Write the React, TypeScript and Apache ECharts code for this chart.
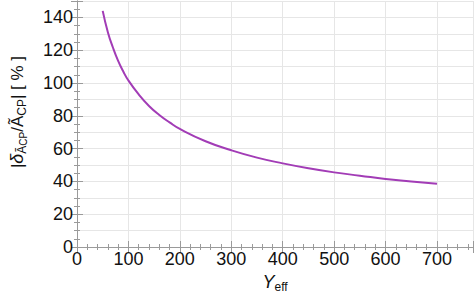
import React, { useEffect, useRef } from 'react';
import * as echarts from 'echarts';

const xValues = [50, 60, 70, 80, 90, 100, 120, 140, 160, 180, 200, 250, 300, 350, 400, 450, 500, 550, 600, 650, 700];
const yValues = [144, 131, 121.5, 113.5, 107, 101.5, 93, 86, 80.5, 76, 72, 64.5, 59, 54.5, 51, 48, 45.5, 43.5, 41.5, 40, 38.5];
const xTickLabels = [0, 100, 200, 300, 400, 500, 600, 700];
const yTickLabels = [0, 20, 40, 60, 80, 100, 120, 140];

const FONT = '"Liberation Sans", Arial, sans-serif';
const FRAME = '#9a9a9a';
const GRID = '#e6e6e6';
const LINE = '#a23cb6';

export default function App() {
  const ref = useRef<HTMLDivElement>(null);
  useEffect(() => {
    if (!ref.current) return;
    const chart = echarts.init(ref.current, undefined, { renderer: 'svg' });
    const xBase = {
      type: 'value' as const,
      min: 0,
      max: 770,
      interval: 100,
      axisLine: { show: true, lineStyle: { color: FRAME, width: 1 } },
      axisTick: { show: true, inside: true, length: 6, lineStyle: { color: FRAME } },
      minorTick: { show: true, splitNumber: 5, length: 3, lineStyle: { color: FRAME } },
    };
    const yBase = {
      type: 'value' as const,
      min: 0,
      max: 150,
      interval: 20,
      axisLine: { show: true, lineStyle: { color: FRAME, width: 1 } },
      axisTick: { show: true, inside: true, length: 6, lineStyle: { color: FRAME } },
      minorTick: { show: true, splitNumber: 4, length: 3, lineStyle: { color: FRAME } },
    };
    chart.setOption({
      animation: false,
      backgroundColor: '#ffffff',
      textStyle: { fontFamily: FONT },
      grid: { left: 74, right: 2, top: 1, bottom: 51, containLabel: false },
      xAxis: [
        {
          ...xBase,
          position: 'bottom',
          splitLine: { show: true, lineStyle: { color: GRID, width: 1 } },
          axisLabel: {
            show: true,
            fontSize: 18,
            color: '#111',
            margin: 3,
            fontFamily: FONT,
            formatter: (v: number) => (xTickLabels.includes(v) ? String(v) : ''),
          },
          name: '{i|Y}{s|eff}',
          nameLocation: 'middle',
          nameGap: 24,
          nameTextStyle: {
            rich: {
              i: { fontSize: 18, fontStyle: 'italic', fontFamily: FONT, color: '#111', lineHeight: 22, verticalAlign: 'middle' },
              s: { fontSize: 12, fontFamily: FONT, color: '#111', lineHeight: 12, verticalAlign: 'bottom' },
            },
          },
        },
        {
          ...xBase,
          position: 'top',
          splitLine: { show: false },
          axisLabel: { show: false },
        },
      ],
      yAxis: [
        {
          ...yBase,
          position: 'left',
          splitLine: { show: false },
          axisLabel: {
            show: true,
            fontSize: 18,
            color: '#111',
            margin: 4,
            fontFamily: FONT,
            formatter: (v: number) => (yTickLabels.includes(v) ? String(v) : ''),
          },
          name: '{n||}{d|δ}{s|Ã}{t|CP}{n|/Ã}{s|CP}{n|| [ % ]}',
          nameLocation: 'middle',
          nameGap: 49,
          nameRotate: 90,
          nameTextStyle: {
            padding: [0, 0, 0, 24],
            rich: {
              n: { fontSize: 17, fontFamily: FONT, color: '#111', lineHeight: 22, verticalAlign: 'middle' },
              d: { fontSize: 18, fontStyle: 'italic', fontFamily: FONT, color: '#111', lineHeight: 22, verticalAlign: 'middle' },
              s: { fontSize: 12, fontFamily: FONT, color: '#111', lineHeight: 12, verticalAlign: 'bottom' },
              t: { fontSize: 10, fontFamily: FONT, color: '#111', lineHeight: 10, verticalAlign: 'bottom' },
            },
          },
        },
        {
          ...yBase,
          position: 'right',
          splitLine: { show: false },
          axisLabel: { show: false },
        },
        {
          type: 'value',
          min: 0,
          max: 150,
          interval: 10,
          position: 'left',
          axisLine: { show: false },
          axisTick: { show: false },
          axisLabel: { show: false },
          splitLine: { show: true, lineStyle: { color: GRID, width: 1 } },
          z: 0,
        },
      ],
      series: [
        {
          type: 'line',
          xAxisIndex: 0,
          yAxisIndex: 0,
          data: xValues.map((x, i) => [x, yValues[i]]),
          smooth: true,
          showSymbol: false,
          lineStyle: { color: LINE, width: 2 },
          z: 5,
        },
      ],
    });
    return () => chart.dispose();
  }, []);
  return <div ref={ref} style={{ width: 476, height: 298, position: 'absolute', left: 0, top: 0 }} />;
}
